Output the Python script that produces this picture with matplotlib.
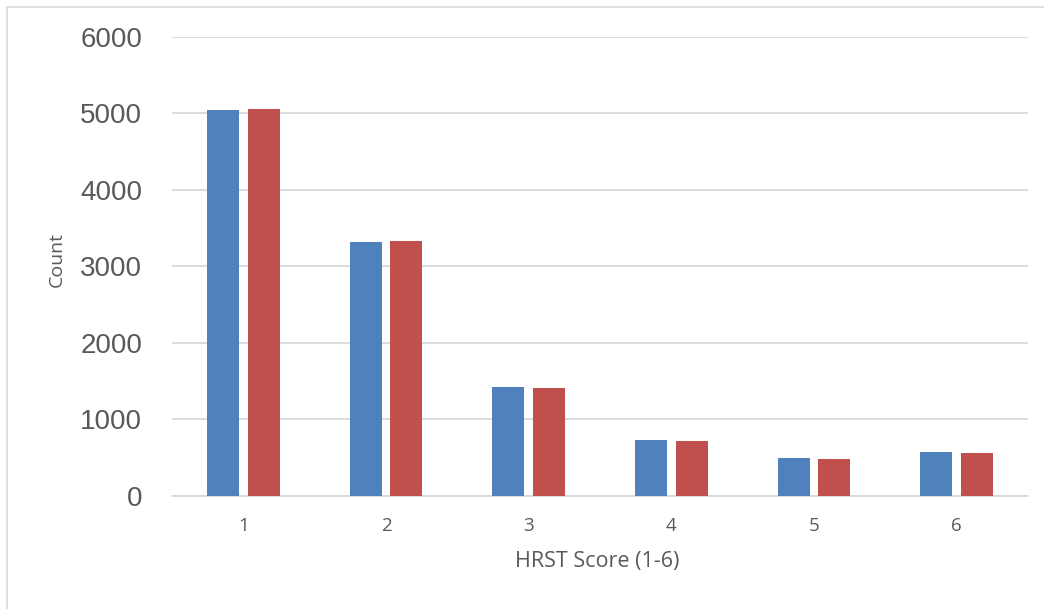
import matplotlib
matplotlib.use("Agg")
import matplotlib.pyplot as plt
from matplotlib.patches import Rectangle
import numpy as np

# HRST score counts for the two groups
scores = ["1", "2", "3", "4", "5", "6"]
series_a = [5042, 3316, 1417, 724, 489, 567]
series_b = [5055, 3329, 1408, 715, 476, 558]

BLUE = "#4F81BD"
RED = "#C0504D"
GRID = "#D9D9D9"
TEXT = "#595959"

W, H = 1044, 609
fig = plt.figure(figsize=(W / 100, H / 100), dpi=100)
fig.patch.set_facecolor("white")

# chart frame (top and left edges visible)
fig.patches.append(Rectangle((7 / W, -0.1), 1.2, 1 - 7 / H + 0.1,
                             transform=fig.transFigure, fill=False,
                             edgecolor="#D9D9D9", linewidth=1.2))

left, right = 172 / W, 1028 / W
bottom, top = 1 - 495.7 / H, 1 - 36.7 / H
ax = fig.add_axes([left, bottom, right - left, top - bottom])

x = np.arange(1, len(scores) + 1)
width = 0.224
offset = 0.143
ax.bar(x - offset, series_a, width, color=BLUE, zorder=3)
ax.bar(x + offset, series_b, width, color=RED, zorder=3)

ax.set_xlim(0.5, len(scores) + 0.5)
ax.set_ylim(0, 6000)
ax.set_yticks(range(0, 6001, 1000))
ax.set_xticks(x)
ax.set_xticklabels(scores)

ax.yaxis.grid(True, color=GRID, linewidth=1.3, zorder=0)
ax.set_axisbelow(True)
for s in ["top", "right", "left"]:
    ax.spines[s].set_visible(False)
ax.spines["bottom"].set_color(GRID)
ax.spines["bottom"].set_linewidth(1.3)
ax.tick_params(axis="both", length=0)
ax.tick_params(axis="y", pad=21.5, labelsize=20, labelcolor=TEXT)
ax.tick_params(axis="x", pad=15, labelsize=13.5, labelcolor=TEXT)
for lbl in ax.get_yticklabels():
    lbl.set_fontfamily("Liberation Sans")
for lbl in ax.get_xticklabels():
    lbl.set_fontfamily("Open Sans")

# axis titles
fig.text(57 / W, 1 - 260 / H, "Count", rotation=90, ha="center", va="center",
         fontsize=14, color=TEXT, family="Open Sans")
fig.text(597 / W, 1 - 567 / H, "HRST Score (1-6)", ha="center", va="baseline",
         fontsize=15.5, color=TEXT, family="Open Sans")

fig.savefig("out.png", dpi=100, facecolor="white")
